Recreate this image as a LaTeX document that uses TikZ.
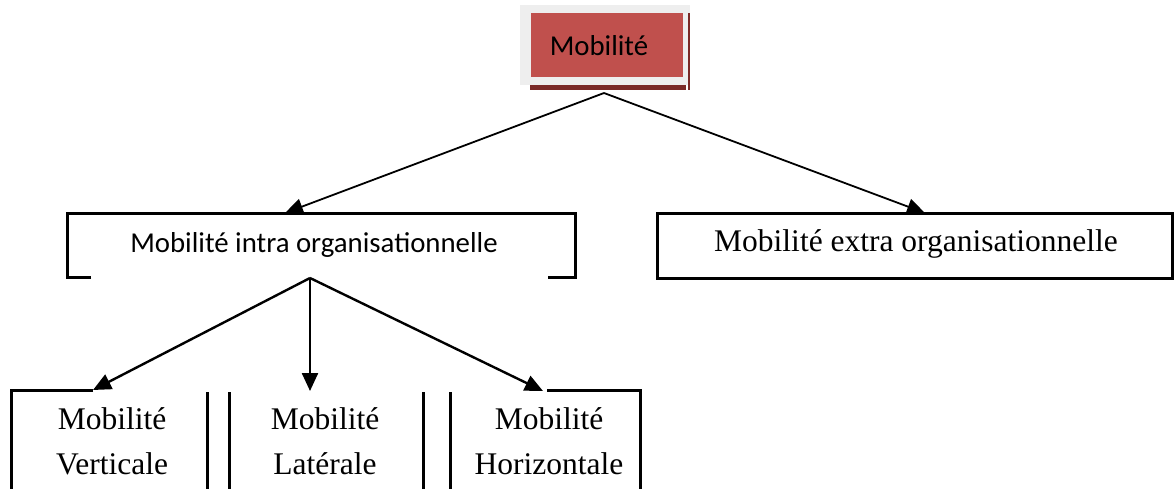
\documentclass[tikz,border=0pt]{standalone}
\usepackage{fontspec}
\setmainfont{Liberation Serif}
\newfontfamily\calibri{Carlito}
\usetikzlibrary{arrows.meta}
\definecolor{topred}{HTML}{C0504D}
\definecolor{darkred}{HTML}{7A2A27}
\definecolor{framegrey}{HTML}{EEEEEE}
\tikzset{
  arr/.style={-{Triangle[length=18pt,width=16pt]}, line width=2.4pt},
  arrthin/.style={-{Triangle[length=18pt,width=16pt]}, line width=1.8pt},
  boxline/.style={line width=3pt},
  sanslabel/.style={font=\calibri\fontsize{28.8}{34}\selectfont, inner sep=0pt},
  seriflabel/.style={font=\fontsize{31.5}{45}\selectfont, inner sep=0pt, align=center},
}
\begin{document}
\begin{tikzpicture}[x=1pt,y=-1pt]
\useasboundingbox (0,0) rectangle (1175,488);
% top box
\fill[framegrey] (520,5) rectangle (690,85);
\node[fill=topred, minimum width=152pt, minimum height=64pt, inner sep=0pt] (top) at (607,45) {};
\fill[darkred] (530,85) rectangle (686,90);
\fill[darkred] (687.5,13) rectangle (690,90);
\node[sanslabel] (toptext) at (599,46) {Mobilité};
% intra box
\draw[boxline] (91,277) -- (67,277) -- (67,213) -- (575,213) -- (575,277) -- (548,277);
\node[sanslabel] (intra) at (314,245) {Mobilité intra organisationnelle};
% extra box
\node[draw, boxline, minimum width=515pt, minimum height=65pt, inner sep=0pt] (extra) at (915,245.5) {};
\node[font=\fontsize{31.5}{38}\selectfont, inner sep=0pt] (extratext) at (916,244) {Mobilité extra organisationnelle};
% connectors level 1
\coordinate (a1) at (604,93);
\coordinate (t1) at (285,213);
\coordinate (t2) at (925,213);
\draw[arrthin] (a1) -- (t1);
\draw[arrthin] (a1) -- (t2);
% connectors level 2
\coordinate (a2) at (310,278);
\coordinate (b1) at (93,390);
\coordinate (b2) at (310,391);
\coordinate (b3) at (543,391);
\draw[arr] (a2) -- (b1);
\draw[arr] (a2) -- (b2);
\draw[arr] (a2) -- (b3);
% bottom boxes
\draw[boxline] (b1) -- (11,390) -- (11,490);
\draw[boxline] (207,392) -- (207,490);
\draw[boxline] (229,392) -- (229,490);
\draw[boxline] (423,392) -- (423,490);
\draw[boxline] (450,392) -- (450,490);
\draw[boxline] (547,390) -- (640,390) -- (640,490);
\node[seriflabel] (vert) at (112,441) {Mobilité\\Verticale};
\node[seriflabel] (lat) at (325,441) {Mobilité\\Latérale};
\node[seriflabel] (hor) at (549,441) {Mobilité\\Horizontale};
\end{tikzpicture}
\end{document}
